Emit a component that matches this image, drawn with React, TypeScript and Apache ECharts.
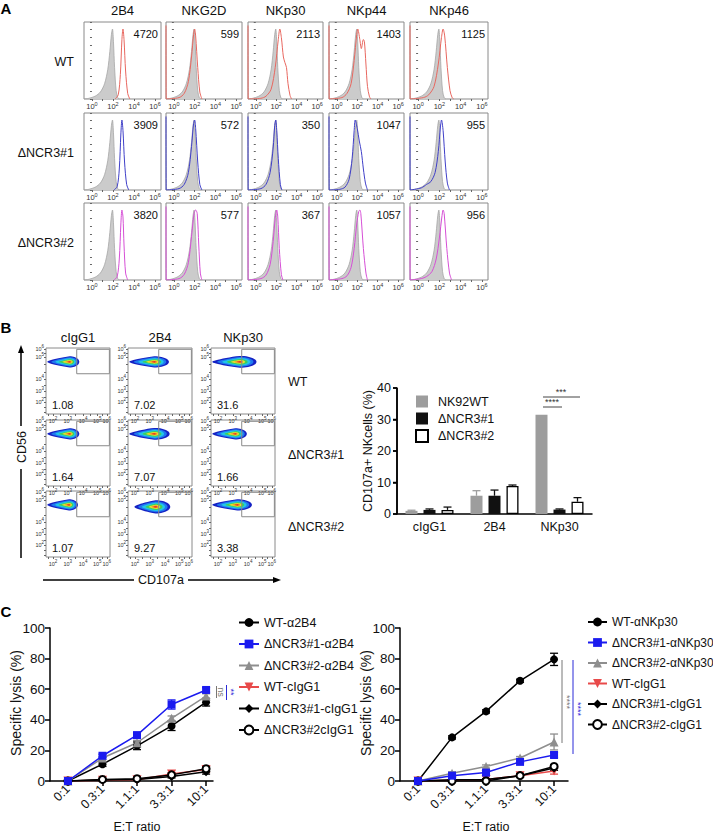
import React, { useEffect, useRef } from "react";
import * as echarts from "echarts";

const FONT = "'Liberation Sans', Arial, Helvetica, sans-serif";

// ---------------- Panel A : histograms ----------------
const histMarkers = ["2B4", "NKG2D", "NKp30", "NKp44", "NKp46"];
const histRowLabels = ["WT", "ΔNCR3#1", "ΔNCR3#2"];
const histMFI = [
  ["4720", "599", "2113", "1403", "1125"],
  ["3909", "572", "350", "1047", "955"],
  ["3820", "577", "367", "1057", "956"],
];
const histTickExponents = [0, 2, 4, 6];
// x = log10 decade (display), y = % of mode
const isotypeCurve = [
  [-0.76, 0], [-0.3, 1], [0.3, 4], [0.8, 10], [1.2, 22], [1.5, 42], [1.7, 68],
  [1.85, 92], [1.95, 100], [2.05, 80], [2.15, 45], [2.3, 12], [2.45, 2], [2.6, 0],
];
const histWT = [
  [[2.2, 0], [2.5, 6], [2.7, 35], [2.85, 85], [2.95, 100], [3.05, 85], [3.2, 40], [3.4, 8], [3.6, 0]],
  [[-0.76, 105], [-0.74, 0], [0.5, 2], [1.0, 8], [1.4, 25], [1.7, 60], [1.9, 92], [2.0, 100], [2.1, 90], [2.3, 45], [2.5, 10], [2.7, 0]],
  [[-0.76, 105], [-0.74, 0], [0.5, 1], [1.0, 4], [1.5, 14], [1.9, 45], [2.2, 85], [2.35, 100], [2.5, 88], [2.7, 60], [2.85, 52], [3.0, 45], [3.15, 22], [3.35, 5], [3.5, 0]],
  [[-0.76, 105], [-0.74, 0], [0.5, 2], [1.0, 8], [1.4, 22], [1.7, 55], [1.95, 92], [2.05, 100], [2.25, 85], [2.4, 72], [2.6, 85], [2.7, 82], [2.85, 50], [3.0, 18], [3.2, 3], [3.35, 0]],
  [[-0.76, 105], [-0.74, 0], [0.5, 2], [1.0, 6], [1.5, 18], [1.9, 50], [2.2, 88], [2.35, 100], [2.5, 90], [2.75, 45], [3.0, 12], [3.2, 2], [3.35, 0]],
];
const histNCR3n1 = [
  [[2.1, 0], [2.4, 5], [2.6, 30], [2.75, 80], [2.85, 100], [2.95, 85], [3.1, 40], [3.3, 8], [3.5, 0]],
  [[-0.76, 105], [-0.74, 0], [0.5, 2], [1.0, 8], [1.4, 25], [1.7, 62], [1.9, 95], [2.0, 100], [2.1, 88], [2.3, 40], [2.5, 8], [2.7, 0]],
  [[-0.76, 105], [-0.74, 0], [0.5, 2], [1.0, 8], [1.4, 25], [1.7, 60], [1.85, 92], [1.95, 100], [2.05, 85], [2.2, 45], [2.4, 8], [2.55, 0]],
  [[-0.76, 105], [-0.74, 0], [0.3, 1], [0.8, 4], [1.2, 15], [1.5, 45], [1.7, 85], [1.8, 100], [2.0, 88], [2.2, 70], [2.4, 55], [2.6, 30], [2.8, 10], [3.0, 0]],
  [[-0.76, 105], [-0.74, 0], [0.3, 3], [0.8, 8], [1.2, 12], [1.6, 25], [1.9, 55], [2.1, 90], [2.2, 100], [2.35, 85], [2.55, 40], [2.75, 10], [2.95, 0]],
];
const histNCR3n2 = [
  [[2.1, 0], [2.4, 5], [2.6, 30], [2.75, 80], [2.85, 100], [2.95, 90], [3.05, 50], [3.2, 10], [3.4, 0]],
  [[-0.76, 105], [-0.74, 0], [0.5, 2], [1.0, 8], [1.4, 25], [1.7, 62], [1.95, 95], [2.1, 100], [2.25, 95], [2.4, 50], [2.55, 10], [2.7, 0]],
  [[-0.76, 105], [-0.74, 0], [0.5, 2], [1.0, 7], [1.4, 22], [1.7, 55], [1.9, 88], [2.05, 100], [2.15, 90], [2.3, 45], [2.5, 8], [2.65, 0]],
  [[-0.76, 105], [-0.74, 0], [0.5, 2], [1.0, 6], [1.4, 18], [1.7, 45], [1.95, 80], [2.15, 98], [2.25, 100], [2.35, 95], [2.6, 45], [2.85, 10], [3.0, 0]],
  [[-0.76, 105], [-0.74, 0], [0.3, 2], [0.8, 5], [1.3, 12], [1.7, 30], [2.0, 60], [2.25, 92], [2.35, 100], [2.45, 95], [2.7, 45], [2.95, 10], [3.15, 0]],
];

// ---------------- Panel B : flow plots ----------------
const flowAntibodies = ["cIgG1", "2B4", "NKp30"];
const flowRowLabels = ["WT", "ΔNCR3#1", "ΔNCR3#2"];
const flowPercent = [
  ["1.08", "7.02", "31.6"],
  ["1.64", "7.07", "1.66"],
  ["1.07", "9.27", "3.38"],
];
// blob outline in display units (0-100) per plot
const flowBlobLeft = [[2, 2, 2], [2, 2, 2], [2, 10, 2]];
const flowBlobRight = [[52, 64, 71], [52, 65, 56], [50, 66, 64]];
const flowBlobCenterX = [[37, 41, 45], [37, 41, 38], [36, 43, 41]];
const flowBlobCenterY = [[79, 79, 79], [79, 79, 79], [79, 76, 79]];
const flowBlobHalfHeight = [[8.5, 8.5, 9], [8.5, 9, 8.5], [8.5, 10, 8.5]];
const flowGate = [48, 61, 99, 98]; // x0, y0, x1, y1
const flowXTickPos = [11, 34, 58, 80, 95];
const flowXTickExp = [2, 3, 4, 5, 6];
const flowYTickPos = [98.5, 86, 53, 35, 18];
const flowYTickExp = [6, 5, 4, 3, 2];

// ---------------- Panel B : bar chart ----------------
const barCategories = ["cIgG1", "2B4", "NKp30"];
const barGroups = ["NK92WT", "ΔNCR3#1", "ΔNCR3#2"];
const barWT = [1.0, 5.8, 31.5];
const barWTErr = [0.2, 1.6, 0];
const barNCR3n1 = [1.3, 5.8, 1.4];
const barNCR3n1Err = [0.3, 1.8, 0.2];
const barNCR3n2 = [1.3, 8.9, 3.9];
const barNCR3n2Err = [0.9, 0.3, 1.3];
const barTicks = [0, 10, 20, 30, 40];

// ---------------- Panel C : lysis ----------------
const lysisRatios = ["0:1", "0.3:1", "1.1:1", "3.3:1", "10:1"];
const lysis2B4Names = ["WT-α2B4", "ΔNCR3#1-α2B4", "ΔNCR3#2-α2B4", "WT-cIgG1", "ΔNCR3#1-cIgG1", "ΔNCR3#2cIgG1"];
const lysis2B4Values = [
  [0, 11, 23, 36, 51.5],
  [0, 16.5, 30, 50, 59.5],
  [0, 15, 25, 41, 55.5],
  [0, 0.5, 0.8, 4.5, 7.5],
  [0, 0.6, 1, 3, 6],
  [0, 1, 1.5, 4, 8],
];
const lysis2B4Err = [
  [0, 1.5, 2.5, 3, 2.5],
  [0, 1, 1, 3, 1.5],
  [0, 1, 1.5, 1.5, 1.5],
  [0, 0.5, 0.5, 1, 2],
  [0, 0.5, 0.5, 1, 1.5],
  [0, 0.5, 0.5, 1, 1.5],
];
const lysisNKp30Names = ["WT-αNKp30", "ΔNCR3#1-αNKp30", "ΔNCR3#2-αNKp30", "WT-cIgG1", "ΔNCR3#1-cIgG1", "ΔNCR3#2-cIgG1"];
const lysisNKp30Values = [
  [0, 28.5, 45.5, 65.5, 79.5],
  [0, 3.5, 5.5, 12.5, 17],
  [0, 5, 9.5, 15, 25.5],
  [0, 0.5, 1, 3.5, 6.5],
  [0, 0.8, 1, 3.5, 8.5],
  [0, 0, 0, 3.5, 9.5],
];
const lysisNKp30Err = [
  [0, 1, 1, 1, 4],
  [0, 0.5, 1, 1, 1.5],
  [0, 1, 1, 1, 5.2],
  [0, 0.5, 0.5, 1, 2],
  [0, 0.5, 0.5, 1, 1.5],
  [0, 0.3, 0.3, 1, 1],
];

// ---------------- styles / layout ----------------
const HIST_LEFT = [84, 166, 248, 329, 410];
const HIST_WIDTH = [77, 76, 75, 75, 78];
const HIST_TOP = [22, 113, 203];
const HIST_H = 77;
const HIST_COLORS = ["#e8675f", "#3f3fc8", "#d64fd6"];
const FLOW_LEFT = [46, 128, 211];
const FLOW_TOP = [348, 420, 491];
const FLOW_W = 64;
const FLOW_H = 66;
const BAR_LEFT = 397;
const BAR_TOP = 388;
const BAR_H = 126;
const BAR_YMAX = 40;
const BLOB_SCALES = [1, 0.82, 0.64, 0.47, 0.32, 0.2, 0.1];
const BLOB_COLORS = ["#1522c4", "#1f78f0", "#22c6e8", "#3ccf5c", "#e6e22e", "#f29028", "#e0261a"];
const LYSIS_STYLES = [
  { symbol: "circle", size: 8, color: "#000", rotate: 0 },
  { symbol: "rect", size: 8, color: "#1b1bef", rotate: 0 },
  { symbol: "triangle", size: 9, color: "#8e8e8e", rotate: 0 },
  { symbol: "triangle", size: 9, color: "#e84a4a", rotate: 180 },
  { symbol: "diamond", size: 9, color: "#000", rotate: 0 },
  { symbol: "emptyCircle", size: 7, color: "#000", rotate: 0 },
];

function supRich(b: number, s: number) {
  return {
    b: { fontSize: b, fontFamily: FONT, color: "#333", lineHeight: b + 4 },
    s: { fontSize: s, fontFamily: FONT, color: "#333", verticalAlign: "top", lineHeight: s },
  };
}

function txt(text: string, x: number, y: number, o: any = {}) {
  return {
    type: "text",
    x,
    y,
    rotation: o.rotation || 0,
    silent: true,
    z: 20,
    style: {
      text,
      x: 0,
      y: 0,
      fill: o.fill || "#111",
      fontSize: o.size || 12,
      fontFamily: FONT,
      fontWeight: o.weight || "normal",
      align: o.align || "center",
      verticalAlign: "middle",
    },
  };
}
function ln(x1: number, y1: number, x2: number, y2: number, stroke = "#000", w = 1) {
  return { type: "line", silent: true, z: 20, shape: { x1, y1, x2, y2 }, style: { stroke, lineWidth: w } };
}

function errRender(offset: number, cap: number, color: string, upOnly: boolean, lw: number) {
  return (params: any, api: any) => {
    const x = api.value(0);
    const y = api.value(1);
    const e = api.value(2);
    if (!e) return { type: "group", children: [] };
    const c = api.coord([x, y]);
    const t = api.coord([x, y + e]);
    const b = api.coord([x, upOnly ? y : Math.max(0, y - e)]);
    const px = c[0] + offset;
    const st = { stroke: color, lineWidth: lw };
    const ch: any[] = [
      { type: "line", shape: { x1: px, y1: t[1], x2: px, y2: b[1] }, style: st },
      { type: "line", shape: { x1: px - cap, y1: t[1], x2: px + cap, y2: t[1] }, style: st },
    ];
    if (!upOnly) ch.push({ type: "line", shape: { x1: px - cap, y1: b[1], x2: px + cap, y2: b[1] }, style: st });
    return { type: "group", children: ch };
  };
}

function blobRender(params: any, api: any) {
  const lx = api.value(0);
  const rx = api.value(1);
  const cx = api.value(2);
  const cy = api.value(3);
  const h = api.value(4);
  const ci = api.value(5);
  const pts: number[][] = [];
  const N = 48;
  for (let k = 0; k < N; k++) {
    const t = (k / N) * Math.PI * 2;
    const c = Math.cos(t);
    const s = Math.sin(t);
    const x = c >= 0 ? cx + (rx - cx) * c : cx + (cx - lx) * c;
    const y = cy + h * s * (c >= 0 ? 1 : 1 + 0.5 * c);
    pts.push(api.coord([x, y]));
  }
  return { type: "polygon", shape: { points: pts }, style: { fill: BLOB_COLORS[ci] } };
}

function gateRender(params: any, api: any) {
  const p0 = api.coord([api.value(0), api.value(1)]);
  const p1 = api.coord([api.value(2), api.value(3)]);
  return {
    type: "rect",
    shape: { x: p0[0], y: p1[1], width: p1[0] - p0[0], height: p0[1] - p1[1] },
    style: { fill: "none", stroke: "#8a8a8a", lineWidth: 1 },
  };
}

function buildOption() {
  const grid: any[] = [];
  const xAxis: any[] = [];
  const yAxis: any[] = [];
  const series: any[] = [];
  const graphic: any[] = [];
  const add = (g: any, x: any, y: any) => {
    const i = grid.length;
    grid.push(g);
    xAxis.push({ ...x, gridIndex: i });
    yAxis.push({ ...y, gridIndex: i });
    return i;
  };

  // ---------- Panel B bar chart ----------
  const bi = add(
    { left: BAR_LEFT, top: BAR_TOP, width: 195, height: BAR_H },
    {
      type: "value", min: -0.5, max: 2.5,
      axisLine: { show: true, onZero: false, lineStyle: { color: "#000", width: 1.5 } },
      axisTick: { show: false },
      splitLine: { show: false },
      axisLabel: { customValues: [0, 1, 2], color: "#111", fontSize: 12.5, fontFamily: FONT, margin: 6, formatter: (v: number) => barCategories[v] },
    },
    {
      type: "value", min: 0, max: BAR_YMAX, interval: 10,
      axisLine: { show: true, onZero: false, lineStyle: { color: "#000", width: 1.5 } },
      axisTick: { show: true, length: 4, lineStyle: { color: "#000", width: 1.5 } },
      axisLabel: { show: false },
      splitLine: { show: false },
    }
  );
  const barVals = [barWT, barNCR3n1, barNCR3n2];
  const barErrs = [barWTErr, barNCR3n1Err, barNCR3n2Err];
  const barStyles = [
    { color: "#9d9d9d", borderColor: "#9d9d9d", borderWidth: 0 },
    { color: "#111", borderColor: "#111", borderWidth: 0 },
    { color: "#fff", borderColor: "#000", borderWidth: 1.3 },
  ];
  const errColors = ["#9d9d9d", "#111", "#111"];
  barGroups.forEach((name, k) => {
    series.push({
      type: "bar", name, xAxisIndex: bi, yAxisIndex: bi, data: barVals[k].map((v, i) => [i, v]), barWidth: 12, barGap: "50%",
      itemStyle: barStyles[k], silent: true, z: 2,
    });
    series.push({
      type: "custom", xAxisIndex: bi, yAxisIndex: bi, silent: true, z: 3,
      data: barVals[k].map((v, i) => [i, v, barErrs[k][i]]),
      renderItem: errRender((k - 1) * 18, 4, errColors[k], true, 1.3),
    });
  });
  // value-axis tick labels of the bar chart (same scale as its y axis)
  barTicks.forEach((t) => {
    const y = BAR_TOP + ((BAR_YMAX - t) / BAR_YMAX) * BAR_H;
    graphic.push(ln(BAR_LEFT - 4, y, BAR_LEFT, y, "#000", 1.5));
    graphic.push(txt(String(t), BAR_LEFT - 6, y, { size: 12.5, align: "right" }));
  });
  graphic.push(ln(BAR_LEFT, BAR_TOP, BAR_LEFT, BAR_TOP + BAR_H, "#000", 1.5));
  graphic.push(txt("CD107a+ NKcells (%)", 368, 451, { size: 12.5, rotation: Math.PI / 2 }));
  graphic.push(ln(543, 397, 580, 397, "#444", 1));
  graphic.push(txt("***", 561, 392, { size: 9, fill: "#333" }));
  graphic.push(ln(543, 407, 562, 407, "#444", 1));
  graphic.push(txt("****", 552, 402, { size: 9, fill: "#333" }));

  // ---------- Panel A ----------
  const histCurves = [histWT, histNCR3n1, histNCR3n2];
  for (let r = 0; r < 3; r++) {
    for (let c = 0; c < 5; c++) {
      const gi = add(
        { left: HIST_LEFT[c], top: HIST_TOP[r], width: HIST_WIDTH[c], height: HIST_H, show: true, borderColor: "#8a8a8a", borderWidth: 1 },
        {
          type: "value", min: -0.76, max: 6.57,
          axisLine: { show: false }, splitLine: { show: false },
          axisTick: { show: true, customValues: [0, 1, 2, 3, 4, 5, 6], length: 2, lineStyle: { color: "#666" } },
          axisLabel: { customValues: histTickExponents, margin: 2, formatter: (v: number) => `{b|10}{s|${v}}`, rich: supRich(7.5, 5.5) },
        },
        {
          type: "value", min: 0, max: 110, interval: 11,
          axisLine: { show: false }, splitLine: { show: false }, axisLabel: { show: false },
          axisTick: { show: true, length: 2, lineStyle: { color: "#666" } },
        }
      );
      series.push({
        type: "line", xAxisIndex: gi, yAxisIndex: gi, data: isotypeCurve, showSymbol: false, smooth: 0.3, silent: true, z: 2,
        lineStyle: { color: "#a6a6a6", width: 0.8 }, areaStyle: { color: "#cbcbcb", opacity: 1 },
      });
      series.push({
        type: "line", xAxisIndex: gi, yAxisIndex: gi, data: histCurves[r][c], showSymbol: false, smooth: 0.3, silent: true, z: 3,
        lineStyle: { color: HIST_COLORS[r], width: 1 },
      });
      graphic.push(txt(histMFI[r][c], HIST_LEFT[c] + HIST_WIDTH[c] - 3, HIST_TOP[r] + 12, { size: 11, align: "right" }));
    }
    graphic.push(txt(histRowLabels[r], 74, HIST_TOP[r] + HIST_H / 2 + 1, { size: 12.5, align: "right" }));
  }
  for (let c = 0; c < 5; c++) graphic.push(txt(histMarkers[c], HIST_LEFT[c] + HIST_WIDTH[c] / 2, 10, { size: 13 }));

  // ---------- Panel B flow ----------
  for (let r = 0; r < 3; r++) {
    for (let c = 0; c < 3; c++) {
      const gi = add(
        { left: FLOW_LEFT[c], top: FLOW_TOP[r], width: FLOW_W, height: FLOW_H, show: true, borderColor: "#8a8a8a", borderWidth: 1 },
        {
          type: "value", min: 0, max: 100,
          axisLine: { show: false }, splitLine: { show: false },
          axisTick: { show: true, customValues: [4, 11, 22, 34, 46, 58, 69, 80, 88, 95], length: 2, lineStyle: { color: "#666" } },
          axisLabel: { customValues: flowXTickPos, margin: 2, formatter: (v: number) => `{b|10}{s|${flowXTickExp[flowXTickPos.indexOf(v)]}}`, rich: supRich(5.5, 4.5) },
        },
        {
          type: "value", min: 0, max: 100,
          axisLine: { show: false }, splitLine: { show: false },
          axisTick: { show: true, customValues: [3, 10, 18, 26, 35, 44, 53, 64, 75, 86, 92, 98.5], length: 2, lineStyle: { color: "#666" } },
          axisLabel: { customValues: flowYTickPos, margin: 2, formatter: (v: number) => `{b|10}{s|${flowYTickExp[flowYTickPos.indexOf(v)]}}`, rich: supRich(5.5, 4.5) },
        }
      );
      const L = flowBlobLeft[r][c];
      const R = flowBlobRight[r][c];
      const CX = flowBlobCenterX[r][c];
      const CY = flowBlobCenterY[r][c];
      const H = flowBlobHalfHeight[r][c];
      const levels = BLOB_SCALES.map((s, k) => [CX - (CX - L) * s, CX + (R - CX) * s, CX, CY, H * s, k]);
      series.push({ type: "custom", xAxisIndex: gi, yAxisIndex: gi, data: levels, renderItem: blobRender, silent: true, z: 2, clip: true });
      series.push({ type: "custom", xAxisIndex: gi, yAxisIndex: gi, data: [flowGate], renderItem: gateRender, silent: true, z: 3 });
      graphic.push(txt(flowPercent[r][c], FLOW_LEFT[c] + 6, FLOW_TOP[r] + 57, { size: 11, align: "left" }));
    }
  }
  flowAntibodies.forEach((a, c) => graphic.push(txt(a, FLOW_LEFT[c] + FLOW_W / 2, 337, { size: 13 })));
  graphic.push(txt(flowRowLabels[0], 288, 382, { size: 12.5, align: "left" }));
  graphic.push(txt(flowRowLabels[1], 288, 455, { size: 12.5, align: "left" }));
  graphic.push(txt(flowRowLabels[2], 288, 527, { size: 12.5, align: "left" }));
  // CD56 arrow
  graphic.push(ln(21, 352, 21, 426, "#000", 1.5));
  graphic.push({ type: "polygon", silent: true, z: 20, shape: { points: [[21, 345], [18, 353], [24, 353]] }, style: { fill: "#000" } });
  graphic.push(txt("CD56", 22, 447, { size: 12.5, rotation: Math.PI / 2 }));
  graphic.push(ln(21, 469, 21, 558, "#000", 1.5));
  // CD107a arrow
  graphic.push(ln(43, 580, 134, 580, "#000", 1.5));
  graphic.push(txt("CD107a", 161, 580, { size: 12.5 }));
  graphic.push(ln(188, 580, 274, 580, "#000", 1.5));
  graphic.push({ type: "polygon", silent: true, z: 20, shape: { points: [[281, 580], [273, 577], [273, 583]] }, style: { fill: "#000" } });

  // ---------- Panel C ----------
  const lysisPanels = [
    { left: 50, width: 163, min: -0.52, max: 4.2, names: lysis2B4Names, vals: lysis2B4Values, errs: lysis2B4Err },
    { left: 400, width: 168, min: -0.53, max: 4.41, names: lysisNKp30Names, vals: lysisNKp30Values, errs: lysisNKp30Err },
  ];
  lysisPanels.forEach((p) => {
    const gi = add(
      { left: p.left, top: 628, width: p.width, height: 153 },
      {
        type: "value", min: p.min, max: p.max,
        axisLine: { show: true, onZero: false, lineStyle: { color: "#000", width: 1.5 } },
        axisTick: { show: true, customValues: [0, 1, 2, 3, 4], length: 5, lineStyle: { color: "#000", width: 1.5 } },
        axisLabel: { customValues: [0, 1, 2, 3, 4], rotate: 45, margin: 6, color: "#111", fontSize: 12.5, fontFamily: FONT, formatter: (v: number) => lysisRatios[v] },
        splitLine: { show: false },
      },
      {
        type: "value", min: 0, max: 100, interval: 20,
        axisLine: { show: true, onZero: false, lineStyle: { color: "#000", width: 1.5 } },
        axisTick: { show: true, length: 5, lineStyle: { color: "#000", width: 1.5 } },
        axisLabel: { show: true, color: "#111", fontSize: 13.5, fontFamily: FONT, margin: 5 },
        splitLine: { show: false },
      }
    );
    p.names.forEach((name, k) => {
      const st = LYSIS_STYLES[k];
      series.push({
        type: "custom", xAxisIndex: gi, yAxisIndex: gi, silent: true, z: 2,
        data: p.vals[k].map((v, i) => [i, v, p.errs[k][i]]),
        renderItem: errRender(0, 4, st.color, false, 1.3),
      });
      series.push({
        type: "line", name, xAxisIndex: gi, yAxisIndex: gi, data: p.vals[k].map((v, i) => [i, v]),
        symbol: st.symbol, symbolSize: st.size, symbolRotate: st.rotate, showSymbol: true, silent: true, z: 3 + (k === 1 ? 2 : 0),
        itemStyle: { color: st.color, borderWidth: st.symbol === "emptyCircle" ? 1.2 : 0 },
        lineStyle: { color: st.color, width: 1.5 },
      });
    });
  });
  graphic.push(txt("Specific lysis (%)", 16, 703, { size: 14, rotation: Math.PI / 2 }));
  graphic.push(txt("Specific lysis (%)", 366, 703, { size: 14, rotation: Math.PI / 2 }));
  graphic.push(txt("E:T ratio", 137, 827, { size: 12.5 }));
  graphic.push(txt("E:T ratio", 486, 827, { size: 12.5 }));
  // significance (left)
  graphic.push(ln(216.5, 686, 216.5, 698, "#777", 1));
  graphic.push(txt("ns", 221, 692, { size: 9, fill: "#777", rotation: -Math.PI / 2 }));
  graphic.push(ln(226.5, 685, 226.5, 700, "#2b2bd8", 1));
  graphic.push(txt("**", 231, 692, { size: 9, fill: "#2b2bd8", rotation: -Math.PI / 2 }));
  // significance (right)
  graphic.push(ln(562, 660, 562, 743, "#777", 1));
  graphic.push(txt("****", 567, 702, { size: 9, fill: "#777", rotation: -Math.PI / 2 }));
  graphic.push(ln(573, 660, 573, 754, "#2b2bd8", 1));
  graphic.push(txt("****", 577.5, 709, { size: 9, fill: "#2b2bd8", rotation: -Math.PI / 2 }));

  // panel letters
  graphic.push(txt("A", 6, 8, { size: 15, weight: "bold", fill: "#000" }));
  graphic.push(txt("B", 6, 327, { size: 15, weight: "bold", fill: "#000" }));
  graphic.push(txt("C", 6, 611, { size: 15, weight: "bold", fill: "#000" }));

  const legend = [
    {
      data: barGroups, left: 410, top: 390, orient: "vertical", icon: "rect", itemWidth: 12, itemHeight: 12, itemGap: 4,
      selectedMode: false, textStyle: { fontSize: 12.5, fontFamily: FONT, color: "#111", padding: [0, 0, 0, 5] },
    },
    {
      data: lysis2B4Names, left: 233, top: 611, orient: "vertical", itemWidth: 20, itemHeight: 11, itemGap: 8.5,
      selectedMode: false, textStyle: { fontSize: 12.5, fontFamily: FONT, color: "#111" },
    },
    {
      data: lysisNKp30Names, left: 582, top: 611, orient: "vertical", itemWidth: 19, itemHeight: 11, itemGap: 8.5,
      selectedMode: false, textStyle: { fontSize: 12, fontFamily: FONT, color: "#111" },
    },
  ];

  return {
    animation: false,
    backgroundColor: "#fff",
    textStyle: { fontFamily: FONT },
    grid,
    xAxis,
    yAxis,
    series,
    legend,
    graphic,
  };
}

export default function App() {
  const ref = useRef<HTMLDivElement>(null);
  useEffect(() => {
    const chart = echarts.init(ref.current as HTMLDivElement, null, { renderer: "svg" });
    chart.setOption(buildOption() as any);
    return () => chart.dispose();
  }, []);
  return <div ref={ref} style={{ position: "fixed", left: 0, top: 0, width: 713, height: 835, background: "#fff" }} />;
}
